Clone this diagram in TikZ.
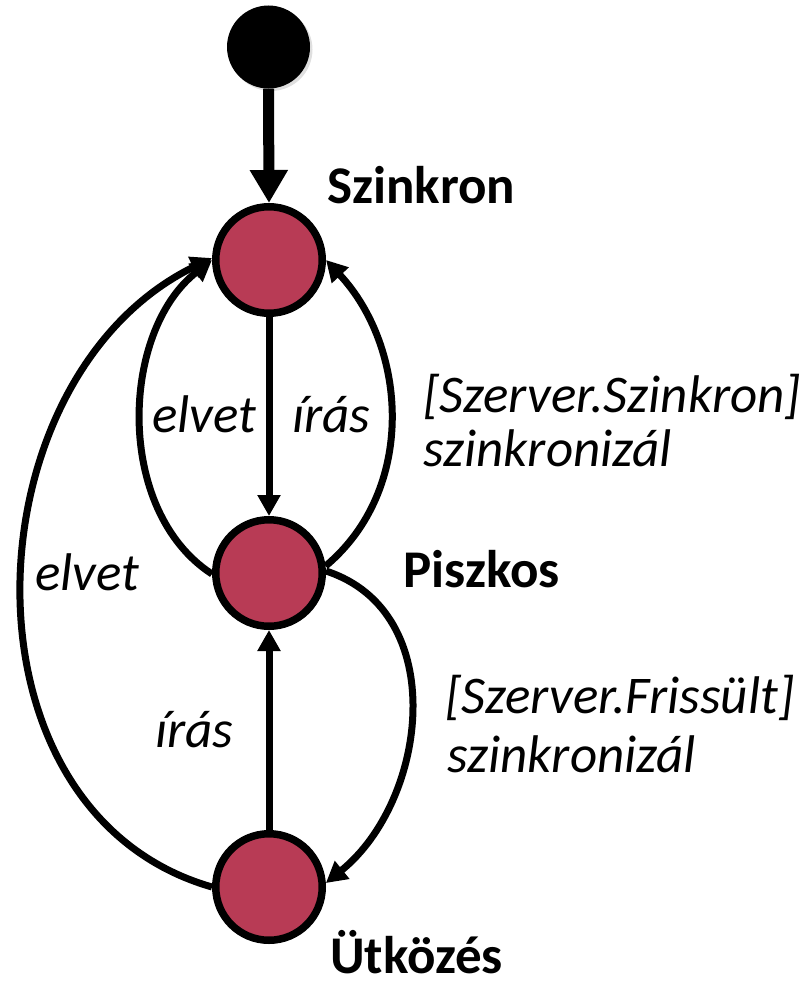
\documentclass[tikz,border=0pt]{standalone}
\usepackage{fontspec}
\setmainfont{Carlito}
\usetikzlibrary{arrows.meta,shadows}
\definecolor{statefill}{RGB}{184,59,85}
\begin{document}
\begin{tikzpicture}[x=1pt,y=1pt,
  state/.style={circle,draw=black,line width=7.5pt,fill=statefill,minimum size=106.5pt,inner sep=0pt,
    drop shadow={opacity=0.25,shadow xshift=2.5pt,shadow yshift=-2.5pt}},
  initstate/.style={circle,fill=black,minimum size=83pt,inner sep=0pt,
    drop shadow={opacity=0.25,shadow xshift=2.5pt,shadow yshift=-2.5pt}},
  trans/.style={line width=7pt,-{Triangle[width=22pt,length=21pt]}},
  slabel/.style={font=\fontsize{53}{60}\selectfont\bfseries,anchor=base west,inner sep=0pt},
  tlabel/.style={font=\fontsize{53}{57}\selectfont\itshape,anchor=base west,inner sep=0pt,align=left},
]
\useasboundingbox (0,0) rectangle (806,-990);
\node[initstate] (init) at (268.5,-47) {};
\node[state] (S) at (269,-260) {};
\node[state] (P) at (269,-573) {};
\node[state] (U) at (269,-887) {};

\draw[line width=11pt,-{Triangle[width=36pt,length=33pt]}] (init.south) -- (S.north);
\draw[trans] (S.south) -- (P.north);
\draw[trans] (U.north) -- (P.south);
\draw[trans] (P.181) to[out=147,in=218,looseness=0.95] (S.180);
\draw[trans] (U.180) to[out=164,in=206,looseness=1.11] (S.178);
\draw[trans] (P.7) to[out=40,in=313] (S.0);
\draw[trans] (P.2) to[out=-18,in=39,looseness=1.08] (U.4);

\node[slabel] (lS) at (327,-203) {Szinkron};
\node[slabel] (lP) at (403,-587) {Piszkos};
\node[slabel] (lU) at (330,-973) {Ütközés};

\node[tlabel] (t1) at (152,-432) {elvet};
\node[tlabel] (t2) at (292,-432) {írás};
\node[tlabel] (t3) at (35,-590) {elvet};
\node[tlabel] (t4) at (155,-747) {írás};
\node[tlabel] (t5a) at (423,-412) {[Szerver.Szinkron]};
\node[tlabel] (t5b) at (423,-466) {szinkronizál};
\node[tlabel] (t6a) at (445,-713) {[Szerver.Frissült]};
\node[tlabel] (t6b) at (447,-772) {szinkronizál};
\end{tikzpicture}
\end{document}
